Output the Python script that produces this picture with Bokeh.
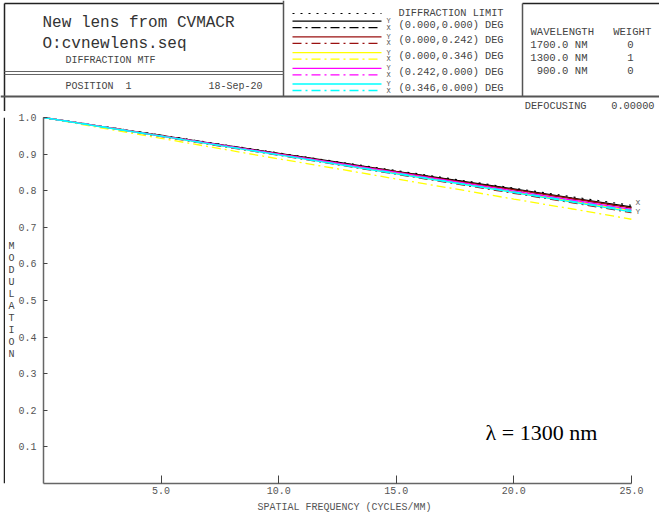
from bokeh.plotting import figure
from bokeh.layouts import column, row
from bokeh.models import Range1d, FixedTicker, Label
from bokeh.core.properties import value
from bokeh.embed import file_html
from bokeh.resources import INLINE

# ---------------- data ----------------
freq = [0, 2.5, 5, 7.5, 10, 12.5, 15, 17.5, 20, 22.5, 25]
diff_limit = [1.0, 0.976, 0.952, 0.927, 0.903, 0.879, 0.855, 0.831, 0.807, 0.783, 0.760]
f1_y = [1.0, 0.975, 0.951, 0.926, 0.902, 0.878, 0.853, 0.829, 0.805, 0.780, 0.756]
f1_x = [1.0, 0.975, 0.951, 0.926, 0.901, 0.877, 0.852, 0.828, 0.803, 0.778, 0.753]
f2_y = [1.0, 0.975, 0.950, 0.925, 0.901, 0.876, 0.852, 0.827, 0.803, 0.778, 0.753]
f2_x = [1.0, 0.974, 0.948, 0.922, 0.897, 0.871, 0.845, 0.819, 0.793, 0.767, 0.740]
f3_y = [1.0, 0.975, 0.950, 0.924, 0.899, 0.874, 0.848, 0.823, 0.797, 0.771, 0.746]
f3_x = [1.0, 0.971, 0.943, 0.915, 0.887, 0.860, 0.832, 0.805, 0.777, 0.750, 0.722]
f4_y = [1.0, 0.975, 0.950, 0.925, 0.900, 0.875, 0.850, 0.825, 0.799, 0.774, 0.749]
f4_x = [1.0, 0.975, 0.949, 0.924, 0.899, 0.874, 0.849, 0.823, 0.798, 0.772, 0.746]
f5_y = [1.0, 0.974, 0.949, 0.923, 0.898, 0.872, 0.846, 0.821, 0.795, 0.769, 0.742]
f5_x = [1.0, 0.975, 0.949, 0.924, 0.898, 0.873, 0.848, 0.822, 0.797, 0.771, 0.746]

field_labels = ["(0.000,0.000) DEG", "(0.000,0.242) DEG", "(0.000,0.346) DEG",
                "(0.242,0.000) DEG", "(0.346,0.000) DEG"]
field_colors = ["#000000", "#9a1010", "#ffff00", "#ff00ff", "#00ffff"]
x_ticks = [5, 10, 15, 20, 25]
x_tick_labels = ["5.0", "10.0", "15.0", "20.0", "25.0"]
y_ticks = [0.1, 0.2, 0.3, 0.4, 0.5, 0.6, 0.7, 0.8, 0.9, 1.0]
y_tick_labels = ["0.1", "0.2", "0.3", "0.4", "0.5", "0.6", "0.7", "0.8", "0.9", "1.0"]
wavelengths = ["1700.0\u00a0NM", "1300.0\u00a0NM", "900.0\u00a0NM"]
weights = ["0", "1", "0"]

MONO = value("Liberation Mono")
MONO_S = "Liberation Mono"
DASHDOT = "9 4 2 4"
DOT = "2 6"
NB = "\u00a0"

# ---------------- header ----------------
HH = 111
hdr = figure(width=659, height=HH, x_range=Range1d(0, 659), y_range=Range1d(HH, 0),
             toolbar_location=None, output_backend="svg", min_border=0)
hdr.axis.visible = False
hdr.grid.visible = False
hdr.outline_line_color = None
hdr.background_fill_color = "white"
hdr.border_fill_color = "white"

# frame lines
hdr.segment(x0=[4, 522], y0=[3, 3], x1=[283, 659], y1=[3, 3], line_color="#222222", line_width=1.5)
hdr.segment(x0=[4], y0=[3], x1=[4], y1=[HH], line_color="#222222", line_width=1.5)
hdr.segment(x0=[283, 522], y0=[0, 3], x1=[283, 522], y1=[96, 96], line_color="#555555", line_width=1.5)
hdr.segment(x0=[4, 4], y0=[71, 74], x1=[283, 283], y1=[71, 74], line_color="#666666", line_width=1)
hdr.segment(x0=[0], y0=[96], x1=[659], y1=[96], line_color="#555555", line_width=2)

# title block
hdr.text(x=[42, 42], y=[22, 43], text=["New lens from CVMACR", "O:cvnewlens.seq"],
         text_font=MONO, text_font_size="16px", text_color="#333333", text_baseline="middle")
hdr.text(x=[65, 65], y=[60, 86], text=["DIFFRACTION MTF", "POSITION" + NB * 2 + "1"],
         text_font=MONO, text_font_size="10px", text_color="#444444", text_baseline="middle")
hdr.text(x=[262], y=[86], text=["18-Sep-20"], text_font=MONO, text_font_size="10px",
         text_color="#444444", text_baseline="middle", text_align="right")

# legend block
hdr.line(x=[292, 381], y=[13, 13], line_color="black", line_dash=DOT, line_width=1.2)
hdr.text(x=[398], y=[12], text=["DIFFRACTION LIMIT"], text_font=MONO, text_font_size="10.3px",
         text_color="#444444", text_baseline="middle")
for i, (lab, col) in enumerate(zip(field_labels, field_colors)):
    ys = 20.7 + 15.7 * i
    hdr.line(x=[292, 381], y=[ys, ys], line_color=col, line_width=1.3)
    hdr.line(x=[292, 381], y=[ys + 6.5, ys + 6.5], line_color=col, line_width=1.3, line_dash=DASHDOT)
    hdr.text(x=[388, 388], y=[ys, ys + 6.5], text=["Y", "X"], text_font=MONO, text_font_size="7px",
             text_color="#555555", text_baseline="middle", text_align="center")
    hdr.text(x=[398], y=[ys + 3.5], text=[lab], text_font=MONO, text_font_size="10.3px",
             text_color="#444444", text_baseline="middle")

# wavelength block
hdr.text(x=[530], y=[31], text=["WAVELENGTH" + NB * 3 + "WEIGHT"], text_font=MONO,
         text_font_size="10.6px", text_color="#444444", text_baseline="middle")
hdr.text(x=[587, 587, 587], y=[44, 57, 70], text=wavelengths, text_font=MONO, text_font_size="10.6px",
         text_color="#444444", text_baseline="middle", text_align="right")
hdr.text(x=[630, 630, 630], y=[44, 57, 70], text=weights, text_font=MONO, text_font_size="10.6px",
         text_color="#444444", text_baseline="middle", text_align="center")

# defocusing note
hdr.text(x=[654], y=[105], text=["DEFOCUSING" + NB * 4 + "0.00000"], text_font=MONO,
         text_font_size="10.3px", text_color="#444444", text_baseline="middle", text_align="right")

# ---------------- left border strip ----------------
PH = 516 - HH
bfig = figure(width=5, height=PH, x_range=Range1d(0, 5), y_range=Range1d(0, 1),
              toolbar_location=None, output_backend="svg", min_border=0)
bfig.axis.visible = False
bfig.grid.visible = False
bfig.outline_line_color = None
bfig.segment(x0=[4], y0=[0], x1=[4], y1=[1], line_color="#222222", line_width=1.5)

# ---------------- main plot ----------------
p = figure(width=654, height=PH, x_range=Range1d(0, 25.6), y_range=Range1d(0, 1),
           toolbar_location=None, output_backend="svg",
           min_border_left=37, min_border_right=14, min_border_top=6, min_border_bottom=33)
p.grid.visible = False
p.outline_line_color = None
p.background_fill_color = "white"
p.border_fill_color = "white"

for ax in (p.xaxis[0], p.yaxis[0]):
    ax.axis_line_color = "#666666"
    ax.axis_line_width = 1.5
    ax.major_tick_line_color = "#444444"
    ax.major_tick_out = 0
    ax.minor_tick_line_color = None
    ax.major_label_text_font = MONO_S
    ax.major_label_text_font_size = "10px"
    ax.major_label_text_color = "#555555"

p.xaxis.bounds = (0, 25)
p.xaxis.ticker = FixedTicker(ticks=x_ticks)
p.xaxis.major_label_overrides = dict(zip(x_ticks, x_tick_labels))
p.xaxis.major_tick_in = 8
p.xaxis.major_label_standoff = 3
p.xaxis.axis_label = "SPATIAL FREQUENCY (CYCLES/MM)"
p.xaxis.axis_label_text_font = MONO_S
p.xaxis.axis_label_text_font_size = "10px"
p.xaxis.axis_label_text_font_style = "normal"
p.xaxis.axis_label_text_color = "#555555"
p.xaxis.axis_label_standoff = 5

p.yaxis.ticker = FixedTicker(ticks=y_ticks)
p.yaxis.major_label_overrides = dict(zip(y_ticks, y_tick_labels))
p.yaxis.major_tick_in = 4
p.yaxis.major_label_standoff = 7
p.yaxis.axis_label = "M\nO\nD\nU\nL\nA\nT\nI\nO\nN"
p.yaxis.axis_label_orientation = "horizontal"
p.yaxis.axis_label_text_font = MONO_S
p.yaxis.axis_label_text_font_size = "10px"
p.yaxis.axis_label_text_font_style = "normal"
p.yaxis.axis_label_text_color = "#444444"
p.yaxis.axis_label_text_line_height = 1.1
p.yaxis.axis_label_standoff = 1

p.line(freq, diff_limit, line_color="black", line_dash=DOT, line_width=1.2)
series = [(f1_y, f1_x), (f2_y, f2_x), (f3_y, f3_x), (f4_y, f4_x), (f5_y, f5_x)]
for (sy, sx), col in zip(series, field_colors):
    p.line(freq, sy, line_color=col, line_width=1.3)
    p.line(freq, sx, line_color=col, line_width=1.3, line_dash=DASHDOT)

# end-of-curve X / Y markers
p.text(x=[freq[-1], freq[-1]], y=[diff_limit[-1] + 0.008, f5_y[-1]], text=["X", "Y"],
       x_offset=4, text_font=MONO, text_font_size="8px", text_color="#666666",
       text_baseline="middle")

p.add_layout(Label(x=18.8, y=0.14, text="\u03bb = 1300 nm", text_font="Liberation Serif",
                   text_font_size="22px", text_color="black", text_baseline="middle"))

layout = column(hdr, row(bfig, p, spacing=0), spacing=0)
open("out.html", "w").write(file_html(layout, INLINE))
